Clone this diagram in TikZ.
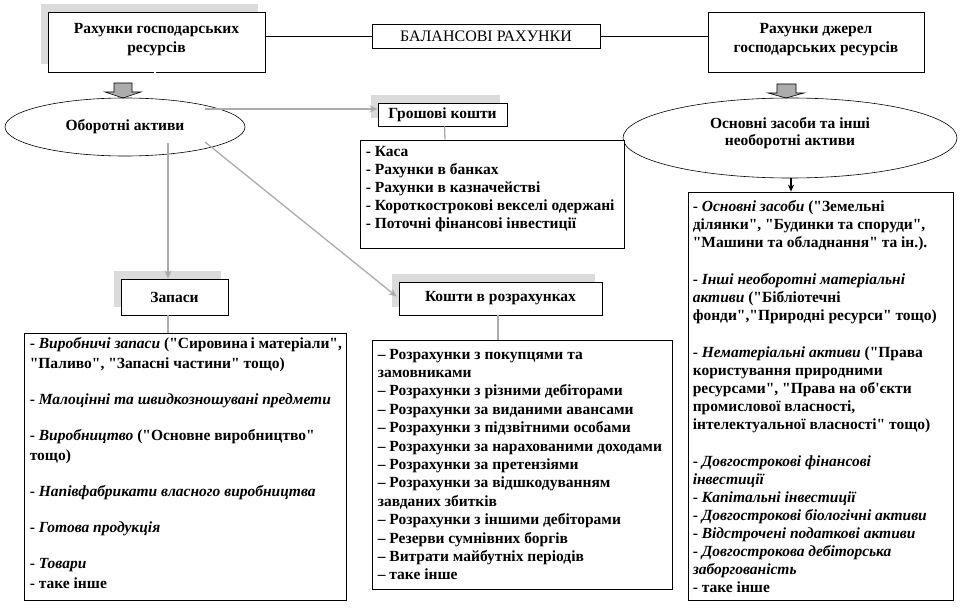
\documentclass[tikz,border=0pt]{standalone}
\usepackage{fontspec}
\setmainfont{Liberation Serif}[Ligatures=TeXOff]
\usetikzlibrary{calc,arrows.meta,shapes.geometric,shadows}
\newcommand{\uptwo}[2]{\begin{tabular}{@{}c@{}}#2\rule[-#1]{0pt}{#1}\end{tabular}}
\begin{document}
\begin{tikzpicture}[x=1pt,y=-1pt,
  font=\fontsize{15.5}{18}\selectfont\bfseries,
  box/.style={draw, line width=0.8pt, fill=white, inner sep=0pt, align=center},
  shbox/.style={box, drop shadow={shadow xshift=-7pt, shadow yshift=8pt, fill=gray!28, opacity=1}},
  oval/.style={draw, line width=0.6pt, ellipse, inner sep=0pt, align=center},
  garrow/.style={draw=gray!65, line width=1.3pt, -{Stealth[length=8pt,width=7pt]}},
  gline/.style={draw=gray!65, line width=1.3pt},
  listtext/.style={anchor=north west, inner sep=0pt, align=left},
  blockarrow/.style={draw, line width=0.6pt, fill=gray!65}]
\useasboundingbox (0,0) rectangle (963,612);
\fill[white] (0,0) rectangle (963,612);

% top row
\node[shbox, font=\fontsize{15.5}{19}\selectfont\bfseries, minimum width=217pt, minimum height=60pt] (lt) at (156.5,42) {\uptwo{12pt}{Рахунки господарських\\ресурсів}};
\node[box, font=\fontsize{16}{18}\selectfont\mdseries, minimum width=228pt, minimum height=24pt] (bal) at (486,36) {БАЛАНСОВІ РАХУНКИ};
\node[box, font=\fontsize{15.5}{19}\selectfont\bfseries, minimum width=216pt, minimum height=60pt] (rt) at (816,42) {\uptwo{12pt}{Рахунки джерел\\господарських ресурсів}};
\draw[line width=0.6pt] (lt.east |- bal.west) -- (bal.west);
\draw[line width=0.6pt] (bal.east) -- (rt.west |- bal.east);

% double line
\coordinate (dl) at (133,84);
\coordinate (dr) at (792,84);
\draw[double, double distance=1.6pt, line width=0.6pt] (lt.south -| 155,0) -- (155,83.5);
\draw[double, double distance=1.6pt, line width=0.6pt] (dl) -- (dr);

% block arrows
\draw[blockarrow] (114,83) -- (132,83) -- (132,92) -- (141,92) -- (123,98) -- (105,92) -- (114,92) -- cycle;
\draw[blockarrow] (777,84) -- (796,84) -- (796,93) -- (804,93) -- (786,98) -- (768,93) -- (777,93) -- cycle;

% ovals
\node[oval, minimum width=240pt, minimum height=58pt] (ovL) at (125,127) {Оборотні активи};
\node[oval, font=\fontsize{15.5}{17}\selectfont\bfseries, minimum width=334pt, minimum height=80pt] (ovR) at (790,138) {\uptwo{13pt}{Основні засоби та інші\\необоротні активи}};

% second level boxes
\node[shbox, minimum width=129pt, minimum height=23pt] (gk) at (442.5,114.5) {Грошові кошти};
\node[shbox, minimum width=107pt, minimum height=36pt] (zap) at (174.5,297) {Запаси};
\node[shbox, minimum width=203pt, minimum height=33pt] (kr) at (500.5,298.5) {Кошти в розрахунках};

% list boxes
\node[box, minimum width=264pt, minimum height=108pt] (gkl) at (492,194) {};
\node[box, minimum width=322pt, minimum height=267pt] (zapl) at (185,466.5) {};
\node[box, minimum width=300pt, minimum height=249pt] (krl) at (522,464.5) {};
\node[box, minimum width=265pt, minimum height=408pt] (rl) at (820.5,396) {};

% connectors
\draw[garrow] ($(ovL.center)+(80,-18)$) -- (gk.west |- 0,109);
\draw[garrow] ($(ovL.center)+(43,16)$) -- ($(zap.north)+(-6.5,0)$);
\draw[garrow] ($(ovL.center)+(80,15)$) -- ($(kr.west)+(-2,-2)$);
\draw[gline] ($(gk.south)+(2,0)$) -- ($(gkl.north)+(-47,0)$);
\draw[gline] ($(zap.south)+(-6.5,0)$) -- ($(zapl.north)+(-17,0)$);
\draw[gline] ($(kr.south)+(-2.5,0)$) -- ($(krl.north)+(-24,0)$);
\draw[line width=1.2pt, -{Stealth[length=7pt,width=6pt]}] ($(ovR.south)+(1,0)$) -- ($(rl.north)+(-29.5,0)$);

% list texts
\node[listtext] (gkt) at ($(gkl.north west)+(6,4.5)$) {\strut- Каса\\
- Рахунки в банках\\
- Рахунки в казначействі\\
- Короткострокові векселі одержані\\
- Поточні фінансові інвестиції};

\node[listtext, font=\fontsize{15.5}{20}\selectfont\bfseries] (zapt) at ($(zapl.north west)+(6,2)$) {\strut- \textit{Виробничі запаси} ("Сировина\,і матеріали",\\
"Паливо", "Запасні частини" тощо)\\[16pt]
-  \textit{Малоцінні та швидкозношувані предмети}\\[16pt]
- \textit{Виробництво} ("Основне виробництво"\\
тощо)\\[16pt]
- \textit{Напівфабрикати власного виробництва}\\[16pt]
- \textit{Готова продукція}\\[16pt]
- \textit{Товари}\\
- таке інше};

\node[listtext, font=\fontsize{15.5}{18.4}\selectfont\bfseries] (krt) at ($(krl.north west)+(6,6.5)$) {\strut– Розрахунки  з покупцями та\\
замовниками\\
– Розрахунки  з різними дебіторами\\
– Розрахунки  за виданими авансами\\
– Розрахунки  з підзвітними особами\\
– Розрахунки  за нарахованими доходами\\
– Розрахунки  за претензіями\\
– Розрахунки  за відшкодуванням\\
завданих збитків\\
– Розрахунки  з іншими дебіторами\\
– Резерви сумнівних боргів\\
– Витрати майбутніх періодів\\
– таке інше};

\node[listtext] (rlt) at ($(rl.north west)+(5,7)$) {\strut- \textit{Основні засоби} ("Земельні\\
ділянки", "Будинки та споруди",\\
"Машини та обладнання" та ін.).\\[19pt]
- \textit{Інші необоротні матеріальні}\\
\textit{активи} ("Бібліотечні\\
фонди","Природні ресурси" тощо)\\[19pt]
- \textit{Нематеріальні активи} ("Права\\
користування природними\\
ресурсами", "Права на об'єкти\\
промислової власності,\\
інтелектуальної власності" тощо)\\[19pt]
- \textit{Довгострокові фінансові}\\
\textit{інвестиції}\\
- \textit{Капітальні інвестиції}\\
- \textit{Довгострокові біологічні активи}\\
- \textit{Відстрочені податкові активи}\\
- \textit{Довгострокова дебіторська}\\
\textit{заборгованість}\\
- таке інше};
\end{tikzpicture}
\end{document}
